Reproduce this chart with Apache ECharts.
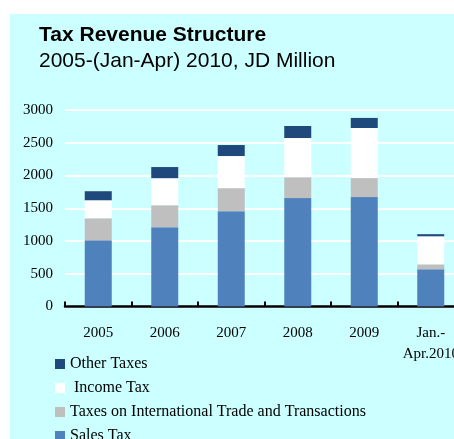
<!DOCTYPE html>
<html>
<head>
<meta charset="utf-8">
<script src="https://cdn.jsdelivr.net/npm/echarts@6/dist/echarts.min.js"></script>
<style>
  html, body { margin: 0; padding: 0; background: #ffffff; overflow: hidden; width: 454px; height: 439px; }
  #chart { position: absolute; left: 10px; top: 14px; width: 480px; height: 480px; background: #ccffff; }
</style>
</head>
<body>
<div id="chart"></div>
<script>
// Period labels along the x axis
const categories = ['2005', '2006', '2007', '2008', '2009', 'Jan.-\nApr.2010'];

// Tax revenue components, JD million
const salesTax = [1010, 1210, 1455, 1655, 1670, 568];
const tradeTaxes = [337, 336, 352, 320, 290, 76];
const incomeTax = [275, 413, 490, 597, 765, 428];
const otherTaxes = [138, 170, 168, 184, 154, 32];

// Legend entries, listed top to bottom
const legendNames = ['Other Taxes', ' Income Tax', 'Taxes on International Trade and Transactions', 'Sales Tax'];

const serif = '"Liberation Serif", "Times New Roman", serif';
const sans = '"Liberation Sans", Arial, sans-serif';

const chart = echarts.init(document.getElementById('chart'), null, { renderer: 'canvas' });

function bar(name, data, color) {
  return {
    name: name,
    type: 'bar',
    stack: 'total',
    barWidth: 27,
    data: data,
    itemStyle: { color: color },
    emphasis: { disabled: true }
  };
}

chart.setOption({
  animation: false,
  title: {
    text: 'Tax Revenue Structure',
    subtext: '2005-(Jan-Apr) 2010, JD Million',
    left: 29,
    top: 10.5,
    padding: 0,
    itemGap: 5,
    textStyle: { fontFamily: sans, fontSize: 21, fontWeight: 'bold', color: '#000000' },
    subtextStyle: { fontFamily: sans, fontSize: 21, color: '#000000' }
  },
  legend: {
    orient: 'vertical',
    left: 45,
    top: 342,
    padding: 0,
    itemWidth: 10,
    itemHeight: 10,
    itemGap: 8,
    data: legendNames,
    icon: 'rect',
    selectedMode: false,
    textStyle: { fontFamily: serif, fontSize: 16, color: '#000000', lineHeight: 16 }
  },
  grid: { left: 55, right: 26, top: 96, bottom: 187.5 },
  xAxis: {
    type: 'category',
    data: categories,
    axisLine: { lineStyle: { color: '#000000', width: 2.5 } },
    axisTick: { show: true, inside: true, length: 5, lineStyle: { color: '#000000', width: 2 } },
    axisLabel: { fontFamily: serif, fontSize: 15, color: '#000000', margin: 16, lineHeight: 21, interval: 0 }
  },
  yAxis: {
    type: 'value',
    min: 0,
    max: 3000,
    interval: 500,
    axisLine: { show: false },
    axisTick: { show: false },
    axisLabel: { fontFamily: serif, fontSize: 15, color: '#000000', margin: 12, formatter: function (v) { return String(v); } },
    splitLine: { lineStyle: { color: '#ffffff', width: 2 } }
  },
  series: [
    bar('Sales Tax', salesTax, '#4f81bd'),
    bar('Taxes on International Trade and Transactions', tradeTaxes, '#bfbfbf'),
    bar(' Income Tax', incomeTax, '#ffffff'),
    bar('Other Taxes', otherTaxes, '#1f497d')
  ]
});
</script>
</body>
</html>
